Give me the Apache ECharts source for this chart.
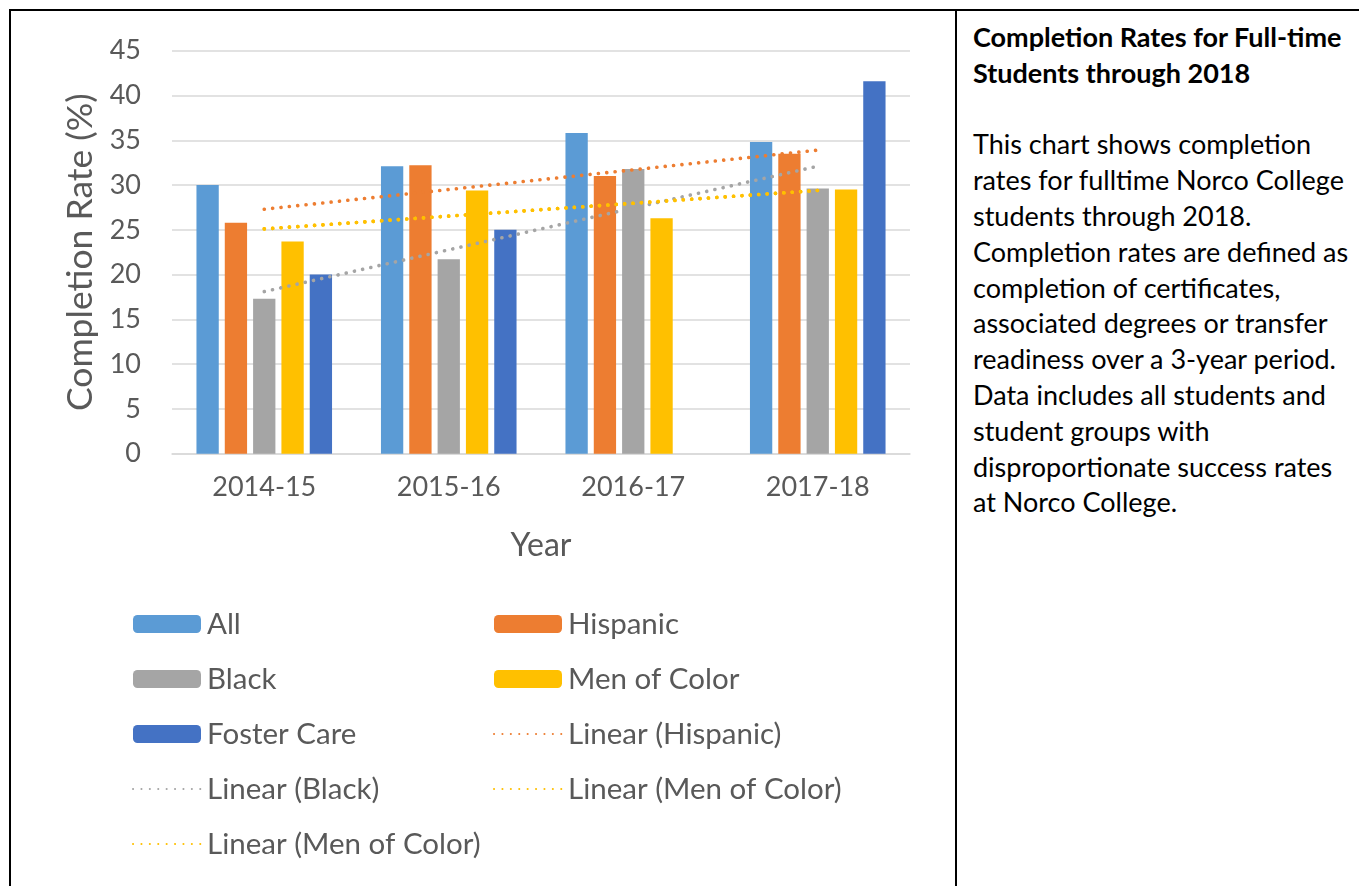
<!DOCTYPE html>
<html>
<head>
<meta charset="utf-8">
<script src="https://cdn.jsdelivr.net/npm/echarts@6/dist/echarts.min.js"></script>
<style>
  html, body { margin: 0; padding: 0; background: #fff; }
  body { width: 1359px; height: 886px; position: relative; overflow: hidden; font-family: Lato, "Open Sans", sans-serif; }
  #chart { position: absolute; left: 0; top: 0; width: 955px; height: 886px; }
  .rule { position: absolute; background: #000; }
  #panel { position: absolute; left: 973px; top: 19px; width: 385px; font-size: 27px; line-height: 35.8px; color: #000; white-space: nowrap; }
  #panel .t { font-weight: bold; }
</style>
</head>
<body>
<div id="chart"></div>
<div class="rule" style="left:9px; top:9px; width:1350px; height:2px;"></div>
<div class="rule" style="left:9px; top:9px; width:2px; height:877px;"></div>
<div class="rule" style="left:955px; top:9px; width:2px; height:877px;"></div>
<div id="panel">
  <div class="t">Completion Rates for Full-time</div>
  <div class="t">Students through 2018</div>
  <div>&nbsp;</div>
  <div>This chart shows completion</div>
  <div>rates for fulltime Norco College</div>
  <div>students through 2018.</div>
  <div>Completion rates are defined as</div>
  <div>completion of certificates,</div>
  <div>associated degrees or transfer</div>
  <div>readiness over a 3-year period.</div>
  <div>Data includes all students and</div>
  <div>student groups with</div>
  <div>disproportionate success rates</div>
  <div>at Norco College.</div>
</div>
<script>
// Academic years on the category axis
const years = ['2014-15', '2015-16', '2016-17', '2017-18'];

// Completion rates (%) by student group
const all = [30.0, 32.1, 35.8, 34.8];
const hispanic = [25.8, 32.2, 31.0, 33.5];
const black = [17.3, 21.7, 31.8, 29.6];
const menOfColor = [23.7, 29.4, 26.3, 29.5];
const fosterCare = [20.0, 25.0, null, 41.6];

// Linear trendline end points (first and last year)
const trendHispanic = [27.3, null, null, 33.9];
const trendBlack = [18.1, null, null, 32.1];
const trendMenOfColor = [25.1, null, null, 29.4];

// Value axis ticks
const yMin = 0, yMax = 45, yStep = 5;

const FONT = 'Lato, "Open Sans", sans-serif';
const TEXT = '#595959';

// second Men of Color trendline carries a zero-width marker so legend names stay unique
const MOC2 = 'Linear (Men of Color)\u200b';

function bar(name, data, color) {
  return {
    name, type: 'bar', data,
    barWidth: 22.3, barGap: '27%',
    itemStyle: { color },
    z: 2
  };
}
function trend(name, data, color) {
  return {
    name, type: 'line', data,
    connectNulls: true, symbol: 'none', silent: true,
    lineStyle: { color, width: 3.6, type: [0.1, 8.3], cap: 'round' },
    itemStyle: { color },
    z: 5
  };
}
// legend entry for a trendline: dotted stroke only, no marker
const lineItem = (name) => ({ name, itemStyle: { opacity: 0 } });

const legendCommon = {
  orient: 'vertical',
  padding: 0,
  itemWidth: 68, itemHeight: 18,
  itemGap: 25,
  selectedMode: false,
  textStyle: { fontFamily: FONT, fontSize: 29.5, color: TEXT, padding: [0, 0, 0, 1] },
  formatter: (n) => n.replace('\u200b', '')
};

const chart = echarts.init(document.getElementById('chart'), null, { renderer: 'canvas' });
chart.setOption({
  animation: false,
  backgroundColor: 'transparent',
  grid: { left: 172, top: 50.7, width: 738, height: 403, containLabel: false },
  xAxis: {
    type: 'category', data: years,
    axisTick: { show: false },
    axisLine: { show: true, lineStyle: { color: '#D9D9D9', width: 1.5 } },
    axisLabel: { fontFamily: FONT, fontSize: 27, color: TEXT, margin: 20 },
    name: 'Year', nameLocation: 'middle', nameGap: 76,
    nameTextStyle: { fontFamily: FONT, fontSize: 32, color: TEXT }
  },
  yAxis: {
    type: 'value', min: yMin, max: yMax, interval: yStep,
    axisLine: { show: false }, axisTick: { show: false },
    splitLine: { lineStyle: { color: '#D9D9D9', width: 1.5 } },
    axisLabel: { fontFamily: FONT, fontSize: 27, color: TEXT, margin: 31 },
    name: 'Completion Rate (%)', nameLocation: 'middle', nameGap: 71, nameRotate: 90,
    nameTextStyle: { fontFamily: FONT, fontSize: 35.5, color: TEXT }
  },
  legend: [
    Object.assign({ left: 132, top: 609,
      data: ['All', 'Black', 'Foster Care', lineItem('Linear (Black)'), lineItem(MOC2)] }, legendCommon),
    Object.assign({ left: 493, top: 609,
      data: ['Hispanic', 'Men of Color', lineItem('Linear (Hispanic)'), lineItem('Linear (Men of Color)')] }, legendCommon)
  ],
  series: [
    bar('All', all, '#5B9BD5'),
    bar('Hispanic', hispanic, '#ED7D31'),
    bar('Black', black, '#A5A5A5'),
    bar('Men of Color', menOfColor, '#FFC000'),
    bar('Foster Care', fosterCare, '#4472C4'),
    trend('Linear (Hispanic)', trendHispanic, '#ED7D31'),
    trend('Linear (Black)', trendBlack, '#A5A5A5'),
    trend('Linear (Men of Color)', trendMenOfColor, '#FFC000'),
    trend(MOC2, trendMenOfColor, '#FFC000')
  ]
});
</script>
</body>
</html>
